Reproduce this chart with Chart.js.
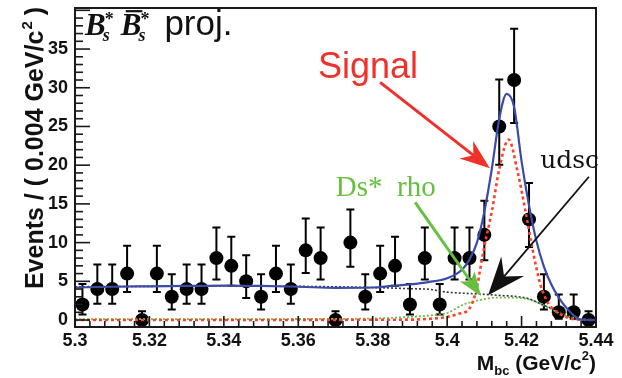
<!DOCTYPE html>
<html><head><meta charset="utf-8">
<script src="https://cdn.jsdelivr.net/npm/chart.js@4.4.0/dist/chart.umd.min.js"></script>
<style>html,body{margin:0;padding:0;background:#fff;overflow:hidden}#wrap{width:622px;height:378px;position:relative}</style>
</head><body><div id="wrap"><canvas id="c" width="622" height="378"></canvas></div>
<script>
// ---- data ----
const binCenters = [5.302,5.306,5.310,5.314,5.318,5.322,5.326,5.330,5.334,5.338,5.342,5.346,5.350,5.354,5.358,5.362,5.366,5.370,5.374,5.378,5.382,5.386,5.390,5.394,5.398,5.402,5.406,5.410,5.414,5.418,5.422,5.426,5.430,5.434,5.438];
const counts     = [2,4,4,6,0,6,3,4,4,8,7,5,3,6,4,9,8,0,10,3,6,7,2,8,2,8,8,11,25,31,13,3,1,1,0];
const errLow     = [1.29,1.91,1.91,2.38,0,2.38,1.63,1.91,1.91,2.77,2.58,2.16,1.63,2.38,1.91,2.94,2.77,0,3.11,1.63,2.38,2.58,1.29,2.77,1.29,2.77,2.77,3.27,4.95,5.54,3.56,1.63,0.83,0.83,0];
const errHigh    = [2.64,3.16,3.16,3.58,1.15,3.58,2.92,3.16,3.16,3.95,3.77,3.38,2.92,3.58,3.16,4.11,3.95,1.15,4.27,2.92,3.58,3.77,2.64,3.95,2.64,3.95,3.95,4.42,6.06,6.61,4.70,2.92,2.30,2.30,1.15];

const totalX  = [5.300,5.310,5.320,5.330,5.340,5.350,5.360,5.370,5.380,5.385,5.390,5.395,5.400,5.404,5.406,5.408,5.410,5.412,5.414,5.416,5.418,5.420,5.422,5.424,5.426,5.428,5.430,5.432,5.434,5.436,5.440];
const totalY  = [4.2,4.3,4.35,4.4,4.45,4.4,4.3,4.15,4.2,4.4,4.6,4.9,5.4,6.5,7.8,10,14,19.5,26,29.2,27.5,20.5,14.8,10.2,6.9,4.6,2.9,1.6,0.6,0.05,0];
const signalX = [5.300,5.390,5.395,5.400,5.403,5.406,5.408,5.409,5.410,5.412,5.414,5.4165,5.419,5.421,5.423,5.425,5.427,5.429,5.431,5.434,5.440];
const signalY = [0,0.05,0.15,0.4,0.8,1.5,4.2,6.9,9.5,14,19.5,23.3,19,14.2,9,4.7,2.3,1.2,0.6,0.1,0];
const bkgX    = [5.300,5.320,5.340,5.360,5.380,5.390,5.3955,5.400,5.407,5.4135,5.4216,5.426,5.4305,5.433,5.435,5.440];
const bkgY    = [4.3,4.35,4.4,4.35,4.2,4.05,3.95,3.6,3.4,3.2,2.8,1.9,1.0,0.4,0.05,0];
const dsrhoX  = [5.300,5.370,5.380,5.390,5.3955,5.400,5.4044,5.409,5.4135,5.4206,5.426,5.430,5.433,5.436,5.440];
const dsrhoY  = [0.1,0.15,0.2,0.4,0.6,0.9,2.0,2.6,2.9,2.8,1.9,0.9,0.4,0.1,0];

const xTicks = [5.30,5.32,5.34,5.36,5.38,5.40,5.42,5.44];
const yTicks = [0,5,10,15,20,25,30,35];

// annotation anchors in data units
const notes = {
  title:  {x:5.3027, y:36.8},
  signal: {x:5.3653, y:31.3, text:'Signal', from:{x:5.3820,y:30.7}, to:{x:5.4115,y:19.6}},
  dsrho:  {x:5.3701, y:16.0, text:'Ds*  rho', from:{x:5.3914,y:15.2}, to:{x:5.4091,y:3.1}},
  udsc:   {x:5.4250, y:19.6, text:'udsc', from:{x:5.4381,y:18.5}, to:{x:5.4110,y:3.2}}
};

const pts = (xs, ys) => xs.map((x,i)=>({x, y:ys[i]}));

function arrow(ctx, x1,y1,x2,y2,color,lw,hl,hw,ind){
  const a = Math.atan2(y2-y1,x2-x1), c=Math.cos(a), s=Math.sin(a);
  const bx = x2 - c*hl, by = y2 - s*hl;
  ctx.save(); ctx.setLineDash([]);
  ctx.strokeStyle=color; ctx.fillStyle=color; ctx.lineWidth=lw; ctx.lineCap='butt';
  ctx.beginPath(); ctx.moveTo(x1,y1); ctx.lineTo(x2 - c*hl*0.6, y2 - s*hl*0.6); ctx.stroke();
  ctx.beginPath();
  ctx.moveTo(x2,y2);
  ctx.lineTo(bx - s*hw, by + c*hw);
  ctx.lineTo(x2 - c*hl*(1-ind), y2 - s*hl*(1-ind));
  ctx.lineTo(bx + s*hw, by - c*hw);
  ctx.closePath(); ctx.fill();
  ctx.restore();
}

const decor = {
  id:'decor',
  beforeDatasetsDraw(chart){
    const ctx = chart.ctx, x = chart.scales.x, y = chart.scales.y;
    ctx.save(); ctx.setLineDash([]);
    ctx.strokeStyle='#000'; ctx.lineWidth=2;
    ctx.beginPath();
    binCenters.forEach((b,i)=>{
      const px = x.getPixelForValue(b);
      const top = y.getPixelForValue(counts[i]+errHigh[i]);
      const bot = y.getPixelForValue(counts[i]-errLow[i]);
      ctx.moveTo(px,top); ctx.lineTo(px,bot);
      ctx.moveTo(px-4,top); ctx.lineTo(px+4,top);
      if (errLow[i]>0){ ctx.moveTo(px-4,bot); ctx.lineTo(px+4,bot); }
    });
    ctx.stroke();
    ctx.restore();
  },
  afterDraw(chart){
    const ctx = chart.ctx, sx = chart.scales.x, sy = chart.scales.y;
    // frame + inward ticks
    const L = sx.getPixelForValue(5.30), R = sx.getPixelForValue(5.44);
    const T = sy.getPixelForValue(40.3), Bt = sy.getPixelForValue(-0.9);
    ctx.save();
    ctx.fillStyle='#1a1a1a';
    ctx.fillRect(L-1, T-1, R-L+2, 2);
    ctx.fillRect(L-1, Bt-1, R-L+2, 2);
    ctx.fillRect(L-1, T-1, 2, Bt-T+2);
    ctx.fillRect(R-1, T-1, 2, Bt-T+2);
    for (let v=0; v<=40; v++){
      const py = sy.getPixelForValue(v);
      if (py < T+2) continue;
      ctx.fillRect(L, py-0.8, (v%5===0)?15:8, 1.6);
    }
    for (let k=0; k<=35; k++){
      const px = sx.getPixelForValue(5.30 + k*0.004);
      const len = (k%5===0)?11:6;
      ctx.fillRect(px-0.8, Bt-len, 1.6, len);
    }
    ctx.restore();

    const x = sx, y = sy;
    ctx.save(); ctx.setLineDash([]);

    // y axis title
    ctx.fillStyle='#111';
    const f1='bold 25px "Liberation Sans", Arial, sans-serif', f2='bold 15px "Liberation Sans", Arial, sans-serif';
    ctx.font=f1; const p1='Events / ( 0.004 GeV/c', p3=' )';
    const w1=ctx.measureText(p1).width, w3=ctx.measureText(p3).width;
    ctx.font=f2; const w2=ctx.measureText('2').width;
    const W=w1+w2+w3;
    ctx.save(); ctx.translate(43, 7+W); ctx.rotate(-Math.PI/2);
    ctx.textBaseline='alphabetic'; ctx.textAlign='left';
    ctx.font=f1; ctx.fillText(p1,0,0);
    ctx.font=f2; ctx.fillText('2',w1+1,-11);
    ctx.font=f1; ctx.fillText(p3,w1+w2,0);
    ctx.restore();

    // x axis title: M_bc (GeV/c^2)
    const g1='bold 21px "Liberation Sans", Arial, sans-serif', g2='bold 13px "Liberation Sans", Arial, sans-serif';
    ctx.font=g1; const wm=ctx.measureText('M').width, wp=ctx.measureText(' (GeV/c').width, wc=ctx.measureText(')').width;
    ctx.font=g2; const wb=ctx.measureText('bc').width, ws=ctx.measureText('2').width;
    let xx = R - (wm+wb+wp+ws+wc); const by=370;
    ctx.textAlign='left'; ctx.textBaseline='alphabetic';
    ctx.font=g1; ctx.fillText('M',xx,by); xx+=wm;
    ctx.font=g2; ctx.fillText('bc',xx,by+5); xx+=wb;
    ctx.font=g1; ctx.fillText(' (GeV/c',xx,by); xx+=wp;
    ctx.font=g2; ctx.fillText('2',xx,by-10); xx+=ws;
    ctx.font=g1; ctx.fillText(')',xx,by);

    // in-plot title
    const tx = x.getPixelForValue(notes.title.x), ty = y.getPixelForValue(notes.title.y);
    ctx.fillStyle='#111';
    const fb='bold italic 31px "Liberation Serif", serif', fs='bold italic 18px "Liberation Serif", serif', fsb='bold 18px "Liberation Serif", serif';
    ctx.font=fb; const wB=ctx.measureText('B').width;
    let cx=tx;
    ctx.fillText('B',cx,ty); cx+=wB;
    ctx.font=fsb; ctx.fillText('*',cx-1,ty-10);
    ctx.font=fs; ctx.fillText('s',cx-3,ty+6); cx+=15;
    ctx.font=fb; ctx.fillText('B',cx,ty);
    ctx.fillRect(cx+5, ty-25, wB-4, 2.2);
    cx+=wB;
    ctx.font=fsb; ctx.fillText('*',cx-1,ty-10);
    ctx.font=fs; ctx.fillText('s',cx-3,ty+6); cx+=15;
    ctx.font='35px "Liberation Sans", Arial, sans-serif';
    ctx.fillText('proj.',cx+8,ty);

    // annotations
    const P = p => [x.getPixelForValue(p.x), y.getPixelForValue(p.y)];
    let n = notes.signal, q=P(n);
    ctx.fillStyle='#f0302a'; ctx.font='36px "Liberation Sans", Arial, sans-serif';
    ctx.fillText(n.text,q[0],q[1]);
    let f=P(n.from), t=P(n.to);
    arrow(ctx,f[0],f[1],t[0],t[1],'#f0302a',3,30,11,0.3);

    n = notes.dsrho; q=P(n);
    ctx.fillStyle='#66c040'; ctx.font='29px "Liberation Serif", serif';
    ctx.fillText(n.text,q[0],q[1]);
    f=P(n.from); t=P(n.to);
    arrow(ctx,f[0],f[1],t[0],t[1],'#66c040',3,24,9,0.25);

    n = notes.udsc; q=P(n);
    ctx.fillStyle='#111'; ctx.font='25px "DejaVu Serif", serif';
    ctx.fillText(n.text,q[0],q[1]);
    f=P(n.from); t=P(n.to);
    arrow(ctx,f[0],f[1],t[0],t[1],'#111',1.8,38,15,0.35);

    ctx.restore();
  }
};

Chart.defaults.font.family = '"Liberation Sans", Arial, sans-serif';
Chart.defaults.color = '#111';

new Chart(document.getElementById('c'), {
  type:'scatter',
  data:{
    datasets:[
      {label:'Total', data:pts(totalX,totalY), showLine:true, pointRadius:0, borderColor:'#3b4ba8', borderWidth:2.2, cubicInterpolationMode:'monotone', order:0},
      {label:'Signal', data:pts(signalX,signalY), showLine:true, pointRadius:0, borderColor:'#ff3f2a', borderWidth:2.6, borderDash:[3,3], cubicInterpolationMode:'monotone', order:1},
      {label:'udsc', data:pts(bkgX,bkgY), showLine:true, pointRadius:0, borderColor:'#333333', borderWidth:1.6, borderDash:[2,2], cubicInterpolationMode:'monotone', order:2},
      {label:'Ds* rho', data:pts(dsrhoX,dsrhoY), showLine:true, pointRadius:0, borderColor:'#6cc04a', borderWidth:1.8, borderDash:[2,2], cubicInterpolationMode:'monotone', order:3},
      {label:'Data', data:pts(binCenters,counts), showLine:false, pointRadius:7, pointStyle:'circle', backgroundColor:'#000', borderColor:'#000', borderWidth:0, order:10}
    ]
  },
  options:{
    responsive:false, devicePixelRatio:1, animation:false,
    layout:{padding:{left:0,right:26,top:8,bottom:0}},
    plugins:{legend:{display:false}, tooltip:{enabled:false}},
    scales:{
      x:{type:'linear', min:5.30, max:5.44,
         afterBuildTicks:s=>{ s.ticks = xTicks.map(v=>({value:v})); },
         afterFit:s=>{ s.height = 51; },
         grid:{display:false, drawTicks:false}, border:{display:false},
         ticks:{padding:3, maxRotation:0, autoSkip:false, font:{size:18, weight:'bold'}, color:'#111',
                callback:v=>String(Number(Number(v).toFixed(2)))}},
      y:{type:'linear', min:-0.9, max:40.3,
         afterBuildTicks:s=>{ s.ticks = yTicks.map(v=>({value:v})); },
         afterFit:s=>{ s.width = 75; s.paddingTop = 0; s.paddingBottom = 0; },
         grid:{display:false, drawTicks:false}, border:{display:false},
         ticks:{padding:7, font:{size:18, weight:'bold'}, color:'#111'}}
    }
  },
  plugins:[decor]
});
</script></body></html>
